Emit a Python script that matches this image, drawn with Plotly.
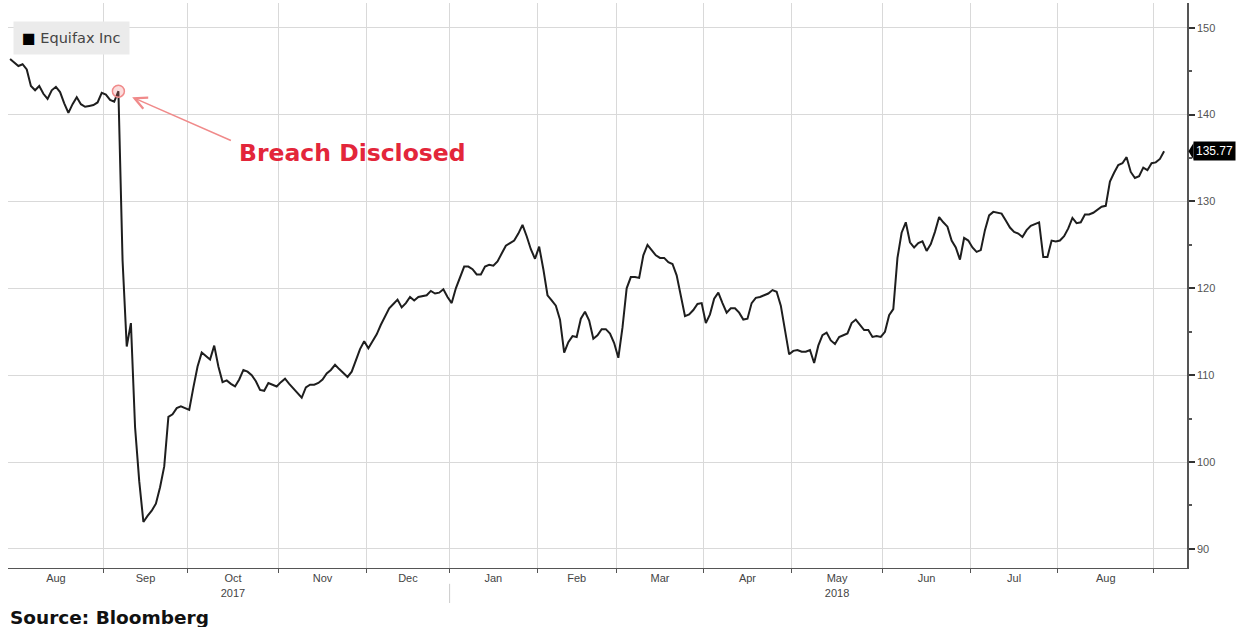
import pandas as pd
import plotly.graph_objects as go

# ---------------- data ----------------
HOLIDAYS = ["2017-09-04", "2017-11-23", "2017-12-25", "2018-01-01", "2018-01-15",
            "2018-02-19", "2018-03-30", "2018-05-28", "2018-07-04", "2018-09-03"]
START_DATE = "2017-08-01"
END_DATE = "2018-09-06"
BREACH_DATE = "2017-09-07"
SERIES_NAME = "Equifax Inc"

price_2017_08 = [146.4, 146.0, 145.6, 145.8, 145.2, 143.3, 142.8, 143.3, 142.4, 141.8, 142.8, 143.2,
                 142.6, 141.3, 140.2, 141.2, 142.0, 141.2, 140.9, 141.0, 141.1, 141.4, 142.5]
price_2017_09 = [142.3, 141.7, 141.5, 142.7, 123.2, 113.3, 116.0, 104.0, 97.8, 93.1, 93.8, 94.4,
                 95.2, 97.1, 99.5, 105.2, 105.5, 106.2, 106.4, 106.2]
price_2017_10 = [106.0, 108.6, 111.0, 112.6, 112.2, 111.8, 113.4, 111.0, 109.2, 109.4, 109.0, 108.7,
                 109.5, 110.6, 110.4, 110.0, 109.3, 108.3, 108.2, 109.1, 108.9, 108.7]
price_2017_11 = [109.2, 109.6, 109.0, 108.5, 108.0, 107.4, 108.6, 108.9, 108.9, 109.1, 109.5, 110.2,
                 110.6, 111.2, 110.7, 110.2, 109.8, 110.4, 111.6, 113.0, 113.9]
price_2017_12 = [113.1, 113.9, 114.7, 115.8, 116.8, 117.7, 118.2, 118.7, 117.8, 118.3, 119.0, 118.6,
                 119.0, 119.1, 119.2, 119.7, 119.4, 119.5, 119.9, 119.0]
price_2018_01 = [118.3, 120.0, 121.2, 122.5, 122.5, 122.2, 121.6, 121.6, 122.5, 122.7, 122.6, 123.1,
                 124.0, 124.9, 125.2, 125.5, 126.3, 127.3, 126.0, 124.5, 123.4]
price_2018_02 = [124.8, 122.2, 119.2, 118.6, 118.0, 116.4, 112.6, 113.8, 114.5, 114.4, 116.5, 117.3,
                 116.3, 114.2, 114.6, 115.3, 115.3, 114.8, 113.7]
price_2018_03 = [112.0, 115.5, 120.0, 121.3, 121.3, 121.2, 123.8, 125.0, 124.4, 123.8, 123.5, 123.5,
                 123.0, 122.8, 121.5, 119.0, 116.8, 117.0, 117.5, 118.2, 118.3]
price_2018_04 = [116.0, 117.0, 118.8, 119.5, 118.3, 117.2, 117.7, 117.7, 117.2, 116.4, 116.5, 118.3,
                 118.9, 119.0, 119.2, 119.4, 119.8, 119.6, 118.0, 115.0, 112.4]
price_2018_05 = [112.8, 112.9, 112.7, 112.7, 112.9, 111.4, 113.4, 114.6, 114.9, 114.0, 113.6, 114.4,
                 114.6, 114.8, 116.0, 116.4, 115.8, 115.2, 115.2, 114.4, 114.5, 114.4]
price_2018_06 = [115.0, 116.9, 117.6, 123.5, 126.4, 127.6, 125.3, 124.7, 125.2, 125.4, 124.3, 125.1,
                 126.5, 128.2, 127.6, 127.1, 125.5, 124.7, 123.3, 125.8, 125.5]
price_2018_07 = [124.7, 124.2, 124.4, 126.7, 128.4, 128.8, 128.7, 128.6, 127.8, 127.0, 126.5, 126.3,
                 125.9, 126.7, 127.2, 127.4, 127.6, 123.6, 123.6, 125.5, 125.4]
price_2018_08 = [125.5, 126.0, 126.9, 128.1, 127.5, 127.6, 128.5, 128.5, 128.7, 129.1, 129.4, 129.5,
                 132.3, 133.3, 134.2, 134.4, 135.1, 133.4, 132.7, 132.9, 133.9, 133.6, 134.4]
price_2018_09 = [134.5, 134.9, 135.77]

MONTH_LABELS = ["Aug", "Sep", "Oct<br>2017", "Nov", "Dec", "Jan", "Feb", "Mar", "Apr",
                "May<br>2018", "Jun", "Jul", "Aug"]
Y_TICKS = [90, 100, 110, 120, 130, 140, 150]

prices = (price_2017_08 + price_2017_09 + price_2017_10 + price_2017_11 + price_2017_12 +
          price_2018_01 + price_2018_02 + price_2018_03 + price_2018_04 + price_2018_05 +
          price_2018_06 + price_2018_07 + price_2018_08 + price_2018_09)

trading_days = pd.bdate_range(START_DATE, END_DATE, freq="C", holidays=HOLIDAYS)
assert len(trading_days) == len(prices), (len(trading_days), len(prices))

# each trading day drawn in the middle of its own slot
x_points = trading_days + pd.Timedelta(hours=12)

# month boundaries and label centres (in trading time)
groups = {}
for d in trading_days:
    groups.setdefault((d.year, d.month), []).append(d)
months = sorted(groups)
boundaries = [groups[m][0] for m in months[1:]]
label_pos = []
for m in months[:len(MONTH_LABELS)]:
    days = groups[m]
    n = len(days)
    if n % 2 == 0:
        label_pos.append(days[n // 2])
    else:
        label_pos.append(days[n // 2] + pd.Timedelta(hours=12))
first_2018 = groups[(2018, 1)][0]

breach_idx = list(trading_days).index(pd.Timestamp(BREACH_DATE))
breach_x = x_points[breach_idx]
breach_y = prices[breach_idx]
last_val = prices[-1]

# ---------------- figure ----------------
fig = go.Figure()
fig.add_trace(go.Scatter(x=x_points, y=prices, mode="lines", name=SERIES_NAME,
                         line=dict(color="#1e1e1e", width=2), showlegend=False,
                         hoverinfo="x+y"))
fig.add_trace(go.Scatter(x=[breach_x], y=[breach_y], mode="markers", showlegend=False,
                         marker=dict(symbol="circle", size=12, color="rgba(240,120,120,0.25)",
                                     line=dict(color="#f08a8a", width=1.5)),
                         hoverinfo="skip"))

GRID = "#d9d9d9"
AXIS = "#555555"
NARROW = "Liberation Sans Narrow, Liberation Sans, Arial, sans-serif"
TICKFONT = dict(family=NARROW, size=11, color="#444444")

fig.update_layout(
    width=1241, height=627,
    margin=dict(l=8, r=54, t=3, b=59),
    paper_bgcolor="white", plot_bgcolor="white",
    font=dict(family="DejaVu Sans, sans-serif"),
    xaxis=dict(
        type="date",
        range=["2017-08-01", "2018-09-14"],
        rangebreaks=[dict(bounds=["sat", "mon"]), dict(values=HOLIDAYS)],
        tickmode="array", tickvals=label_pos, ticktext=MONTH_LABELS,
        ticks="", showgrid=False, zeroline=False,
        showline=True, linecolor=AXIS, linewidth=1,
        tickfont=TICKFONT,
        minor=dict(tickmode="array", tickvals=boundaries, showgrid=True,
                   gridcolor=GRID, gridwidth=1, ticks="outside", ticklen=4,
                   tickcolor=AXIS, tickwidth=1),
    ),
    yaxis=dict(
        side="right", range=[87.8, 152.85],
        tickmode="array", tickvals=Y_TICKS,
        showgrid=True, gridcolor=GRID, gridwidth=1, zeroline=False,
        showline=True, linecolor=AXIS, linewidth=1.5,
        ticks="outside", ticklen=6, tickwidth=2, tickcolor="#333333",
        tickfont=dict(family=NARROW, size=11, color="#555555"),
        minor=dict(dtick=5, ticks="outside", ticklen=3, tickcolor=AXIS, showgrid=False),
    ),
)

# legend box
fig.add_annotation(xref="paper", yref="paper", x=0.004, y=0.969, xanchor="left", yanchor="top",
                   text="<span style='color:#000'>■</span> " + SERIES_NAME,
                   showarrow=False, bgcolor="#ebebeb", borderpad=8,
                   font=dict(family="DejaVu Sans, sans-serif", size=14.5, color="#444444"))

# annotation arrow and label
fig.add_annotation(x=breach_x, y=breach_y, xref="x", yref="y", text="", showarrow=True,
                   ax=114, ay=50, axref="pixel", ayref="pixel", standoff=15,
                   arrowhead=5, arrowsize=1.6, arrowwidth=1.5, arrowcolor="#f08a8a")
fig.add_annotation(xref="paper", yref="paper", x=0.2926, y=0.7345, xanchor="center",
                   yanchor="middle", showarrow=False, text="<b>Breach Disclosed</b>",
                   font=dict(family="DejaVu Sans, sans-serif", size=23.5, color="#e3263a"))

# last value tag
fig.add_annotation(xref="paper", yref="y", x=1.0, y=last_val, xanchor="left", yanchor="middle",
                   xshift=6, showarrow=False, text=f"{last_val:.2f}", bgcolor="#000000",
                   borderpad=2,
                   font=dict(family=NARROW, size=12, color="white"))
fig.add_shape(type="path", xref="paper", yref="y",
              path=f"M 1.0012,{last_val} L 1.0055,{last_val + 0.95} L 1.0055,{last_val - 0.95} Z",
              fillcolor="#000000", line=dict(width=0))

# year separator
fig.add_shape(type="line", xref="x", yref="paper", x0=first_2018, x1=first_2018,
              y0=-0.028, y1=-0.062, line=dict(color="#cccccc", width=1))

# source
fig.add_annotation(xref="paper", yref="paper", x=0.0, y=-0.088, xanchor="left", yanchor="middle",
                   showarrow=False, text="<b>Source: Bloomberg</b>",
                   font=dict(family="DejaVu Sans, sans-serif", size=18.5, color="#111111"))

fig.write_html("out.html")
